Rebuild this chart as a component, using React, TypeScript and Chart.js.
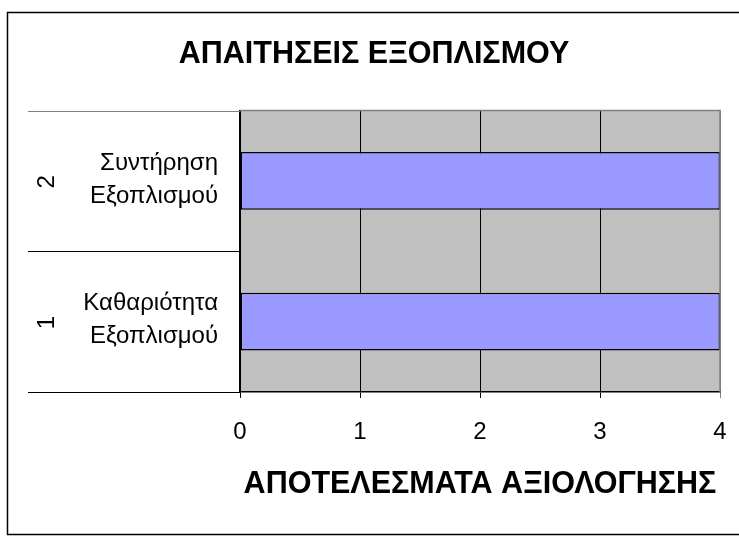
import React, { useEffect, useRef } from "react";
import { Chart, registerables } from "chart.js";

Chart.register(...registerables);

// Evaluation results per equipment requirement
const categoryNumbers = ["1", "2"];
const categoryNames = [
  ["Καθαριότητα", "Εξοπλισμού"],
  ["Συντήρηση", "Εξοπλισμού"],
];
const scores = [4, 4];
const xTicks = [0, 1, 2, 3, 4];

const chartTitle = "ΑΠΑΙΤΗΣΕΙΣ ΕΞΟΠΛΙΣΜΟΥ";
const axisTitle = "ΑΠΟΤΕΛΕΣΜΑΤΑ ΑΞΙΟΛΟΓΗΣΗΣ";

const FONT = "'Liberation Sans', Arial, sans-serif";

// Frame, grey plot background and the upper/right plot border
const backdrop = {
  id: "backdrop",
  beforeDraw(chart: any) {
    const { ctx, chartArea } = chart;
    ctx.save();
    ctx.fillStyle = "#ffffff";
    ctx.fillRect(0, 0, chart.width, chart.height);
    ctx.strokeStyle = "#000000";
    ctx.lineWidth = 1.5;
    ctx.strokeRect(7.5, 12.5, chart.width, 522);
    ctx.fillStyle = "#C0C0C0";
    ctx.fillRect(
      chartArea.left,
      chartArea.top,
      chartArea.right - chartArea.left,
      chartArea.bottom - chartArea.top
    );
    ctx.restore();
  },
  afterDraw(chart: any) {
    const { ctx, chartArea } = chart;
    ctx.save();
    ctx.strokeStyle = "#808080";
    ctx.lineWidth = 1.5;
    ctx.beginPath();
    ctx.moveTo(chartArea.left, chartArea.top);
    ctx.lineTo(chartArea.right, chartArea.top);
    ctx.lineTo(chartArea.right, chartArea.bottom);
    ctx.stroke();
    ctx.restore();
  },
};

// Two-level category axis: rotated index plus the category name
const categoryLabels = {
  id: "categoryLabels",
  afterDraw(chart: any) {
    const { ctx, chartArea } = chart;
    const y = chart.scales.y;
    const n = categoryNumbers.length;
    const half =
      n > 1
        ? Math.abs(y.getPixelForValue(1) - y.getPixelForValue(0)) / 2
        : (chartArea.bottom - chartArea.top) / 2;
    ctx.save();
    // separators between category groups
    const edges: number[] = [];
    for (let i = 0; i < n; i++) {
      const c = y.getPixelForValue(i);
      edges.push(c - half, c + half);
    }
    const uniq = Array.from(new Set(edges.map((e) => Math.round(e))));
    uniq.forEach((e) => {
      ctx.strokeStyle = Math.abs(e - chartArea.top) < 2 ? "#808080" : "#000000";
      ctx.lineWidth = 1;
      ctx.beginPath();
      ctx.moveTo(y.left, e + 0.5);
      ctx.lineTo(chartArea.left, e + 0.5);
      ctx.stroke();
    });

    ctx.fillStyle = "#000000";
    for (let i = 0; i < n; i++) {
      const c = y.getPixelForValue(i);
      ctx.save();
      ctx.font = `24px ${FONT}`;
      ctx.textAlign = "center";
      ctx.textBaseline = "middle";
      ctx.translate(47, c + 1);
      ctx.rotate(-Math.PI / 2);
      ctx.fillText(categoryNumbers[i], 0, 0);
      ctx.restore();

      ctx.font = `24px ${FONT}`;
      ctx.textAlign = "right";
      ctx.textBaseline = "middle";
      const lines = categoryNames[i];
      ctx.fillText(lines[0], 218, c - 18);
      ctx.fillText(lines[1], 218, c + 15);
    }
    ctx.restore();
  },
};

export default function App() {
  const canvasRef = useRef<HTMLCanvasElement | null>(null);

  useEffect(() => {
    if (!canvasRef.current) return;
    const chart = new Chart(canvasRef.current, {
      type: "bar",
      data: {
        labels: categoryNumbers,
        datasets: [
          {
            data: scores,
            backgroundColor: "#9999FF",
            borderColor: "#000000",
            borderWidth: 1.5,
            borderSkipped: false,
            barPercentage: 0.41,
            categoryPercentage: 1,
          },
        ],
      },
      options: {
        indexAxis: "y",
        responsive: false,
        animation: false,
        devicePixelRatio: 1,
        layout: { padding: { left: 28, right: 34, top: 0, bottom: 0 } },
        plugins: {
          legend: { display: false },
          tooltip: { enabled: false },
          title: {
            display: true,
            text: chartTitle,
            color: "#000000",
            font: { family: FONT, size: 30.5, weight: "bold" },
            padding: { top: 36, bottom: 38 },
          },
        },
        scales: {
          x: {
            type: "linear",
            min: xTicks[0],
            max: xTicks[xTicks.length - 1],
            afterBuildTicks(scale: any) {
              scale.ticks = xTicks.map((v) => ({ value: v }));
            },
            afterFit(scale: any) {
              scale.height = 148;
            },
            grid: {
              color: (c: any) => (c.tick && c.tick.value === 4 ? "#808080" : "#000000"),
              lineWidth: 1,
              tickLength: 6,
            },
            border: { color: "#000000", width: 1.5 },
            ticks: {
              color: "#000000",
              font: { family: FONT, size: 24 },
              padding: 20,
              maxRotation: 0,
            },
            title: {
              display: true,
              text: axisTitle,
              color: "#000000",
              font: { family: FONT, size: 30.5, weight: "bold" },
              padding: { top: 0, bottom: 37 },
            },
          },
          y: {
            type: "category",
            reverse: true,
            afterFit(scale: any) {
              scale.width = 212;
            },
            grid: { display: false },
            border: { color: "#000000", width: 1.5 },
            ticks: { display: false },
          },
        },
      },
      plugins: [backdrop, categoryLabels],
    } as any);
    return () => chart.destroy();
  }, []);

  return (
    <div
      style={{
        position: "fixed",
        left: 0,
        top: 0,
        width: 739,
        height: 540,
        overflow: "hidden",
        background: "#ffffff",
      }}
    >
      <canvas ref={canvasRef} width={754} height={540} style={{ display: "block" }} />
    </div>
  );
}
